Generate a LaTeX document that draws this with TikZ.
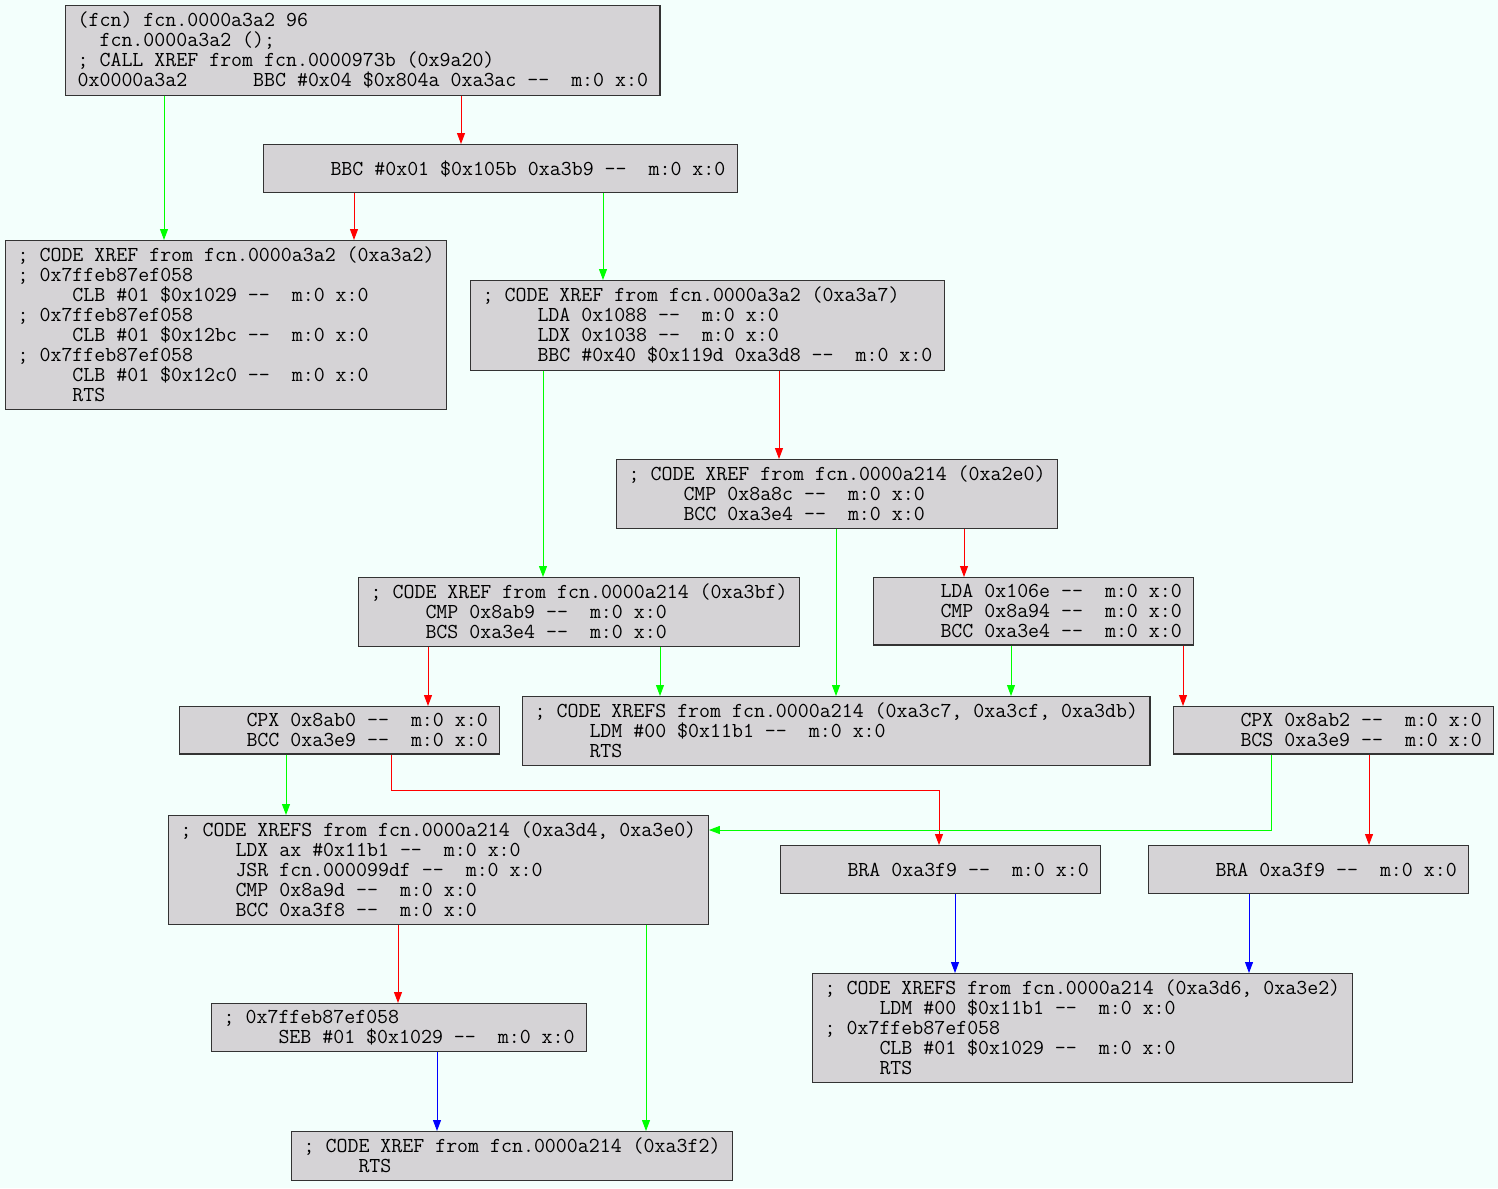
\documentclass[tikz,border=0pt]{standalone}
\usepackage{fontspec}
\usepackage{tikz}
\usetikzlibrary{arrows.meta}

\definecolor{bgcol}{RGB}{243,255,252}
\definecolor{boxfill}{RGB}{213,211,214}
\newcommand{\codefont}{\ttfamily\fontsize{21.3}{20}\selectfont\frenchspacing\lineskiplimit=-20pt\relax}
% n character cells of the mono font
\newcommand{\cells}[1]{\hspace*{#1\fontcharwd\font`0}}
\newcommand{\ind}{\cells{5}}
\newcommand{\mx}{--\ \ m:0 x:0}

\begin{document}
\begin{tikzpicture}[
    x=1pt, y=-1pt,
    box/.style={draw=black!80, line width=1.3pt, fill=boxfill, anchor=north west, align=left,
        inner xsep=12pt, inner ysep=6.5pt, font=\codefont,
        execute at begin node=\rule{0pt}{19pt}, execute at end node=\rule[-1pt]{0pt}{1pt}},
    single/.style={minimum height=48pt,
        execute at begin node=\rule{0pt}{15pt}, execute at end node=\rule[-5pt]{0pt}{5pt}},
    arrow/.style={-{Triangle[length=11pt, width=8pt]}, line width=1pt},
    tarrow/.style={arrow, green},
    farrow/.style={arrow, red},
    jarrow/.style={arrow, blue}
]
\fill[bgcol] (0,0) rectangle (1498,1188);
\useasboundingbox (0,0) rectangle (1498,1188);

\node[box] (a) at (65,5) {(fcn) fcn.0000a3a2 96\\
\cells{2}fcn.0000a3a2 ();\\
; CALL XREF from fcn.0000973b (0x9a20)\\
0x0000a3a2\cells{6}BBC \#0x04 \$0x804a 0xa3ac \mx};
\node[box, single] (b) at (263,144) {\ind BBC \#0x01 \$0x105b 0xa3b9 \mx};
\node[box] (c) at (5,240) {; CODE XREF from fcn.0000a3a2 (0xa3a2)\\
; 0x7ffeb87ef058\\
\ind CLB \#01 \$0x1029 \mx\\
; 0x7ffeb87ef058\\
\ind CLB \#01 \$0x12bc \mx\\
; 0x7ffeb87ef058\\
\ind CLB \#01 \$0x12c0 \mx\\
\ind RTS};
\node[box] (d) at (470,280) {; CODE XREF from fcn.0000a3a2 (0xa3a7)\\
\ind LDA 0x1088 \mx\\
\ind LDX 0x1038 \mx\\
\ind BBC \#0x40 \$0x119d 0xa3d8 \mx};
\node[box] (e) at (616,459) {; CODE XREF from fcn.0000a214 (0xa2e0)\\
\ind CMP 0x8a8c \mx\\
\ind BCC 0xa3e4 \mx};
\node[box] (f) at (358,577) {; CODE XREF from fcn.0000a214 (0xa3bf)\\
\ind CMP 0x8ab9 \mx\\
\ind BCS 0xa3e4 \mx};
\node[box] (g) at (873,577) {\ind LDA 0x106e \mx\\
\ind CMP 0x8a94 \mx\\
\ind BCC 0xa3e4 \mx};
\node[box] (h) at (179,706) {\ind CPX 0x8ab0 \mx\\
\ind BCC 0xa3e9 \mx};
\node[box] (i) at (522,696) {; CODE XREFS from fcn.0000a214 (0xa3c7, 0xa3cf, 0xa3db)\\
\ind LDM \#00 \$0x11b1 \mx\\
\ind RTS};
\node[box] (j) at (1173,706) {\ind CPX 0x8ab2 \mx\\
\ind BCS 0xa3e9 \mx};
\node[box] (k) at (168,815) {; CODE XREFS from fcn.0000a214 (0xa3d4, 0xa3e0)\\
\ind LDX ax \#0x11b1 \mx\\
\ind JSR fcn.000099df \mx\\
\ind CMP 0x8a9d \mx\\
\ind BCC 0xa3f8 \mx};
\node[box, single] (l) at (780,845) {\ind BRA 0xa3f9 \mx};
\node[box, single] (m) at (1148,845) {\ind BRA 0xa3f9 \mx};
\node[box] (n) at (211,1003) {; 0x7ffeb87ef058\\
\ind SEB \#01 \$0x1029 \mx};
\node[box] (o) at (812,973) {; CODE XREFS from fcn.0000a214 (0xa3d6, 0xa3e2)\\
\ind LDM \#00 \$0x11b1 \mx\\
; 0x7ffeb87ef058\\
\ind CLB \#01 \$0x1029 \mx\\
\ind RTS};
\node[box] (p) at (291,1131) {; CODE XREF from fcn.0000a214 (0xa3f2)\\
\ind RTS};

\draw[tarrow] (a.south -| 164,0) -- (c.north -| 164,0);
\draw[farrow] (a.south -| 461,0) -- (b.north -| 461,0);
\draw[farrow] (b.south -| 354,0) -- (c.north -| 354,0);
\draw[tarrow] (b.south -| 603,0) -- (d.north -| 603,0);
\draw[tarrow] (d.south -| 543,0) -- (f.north -| 543,0);
\draw[farrow] (d.south -| 779,0) -- (e.north -| 779,0);
\draw[tarrow] (e.south -| 836,0) -- (i.north -| 836,0);
\draw[farrow] (e.south -| 964,0) -- (g.north -| 964,0);
\draw[farrow] (f.south -| 428,0) -- (h.north -| 428,0);
\draw[tarrow] (f.south -| 660,0) -- (i.north -| 660,0);
\draw[tarrow] (g.south -| 1011,0) -- (i.north -| 1011,0);
\draw[farrow] (g.south -| 1183,0) -- (j.north -| 1183,0);
\draw[tarrow] (h.south -| 286,0) -- (k.north -| 286,0);
\draw[farrow] (h.south -| 391,0) |- (939,790) -- (l.north -| 939,0);
\draw[tarrow] (j.south -| 1271,0) |- (k.north east |- 0,830);
\draw[farrow] (j.south -| 1369,0) -- (m.north -| 1369,0);
\draw[farrow] (k.south -| 398,0) -- (n.north -| 398,0);
\draw[tarrow] (k.south -| 646,0) -- (p.north -| 646,0);
\draw[jarrow] (l.south -| 955,0) -- (o.north -| 955,0);
\draw[jarrow] (m.south -| 1249,0) -- (o.north -| 1249,0);
\draw[jarrow] (n.south -| 437,0) -- (p.north -| 437,0);
\end{tikzpicture}
\end{document}
